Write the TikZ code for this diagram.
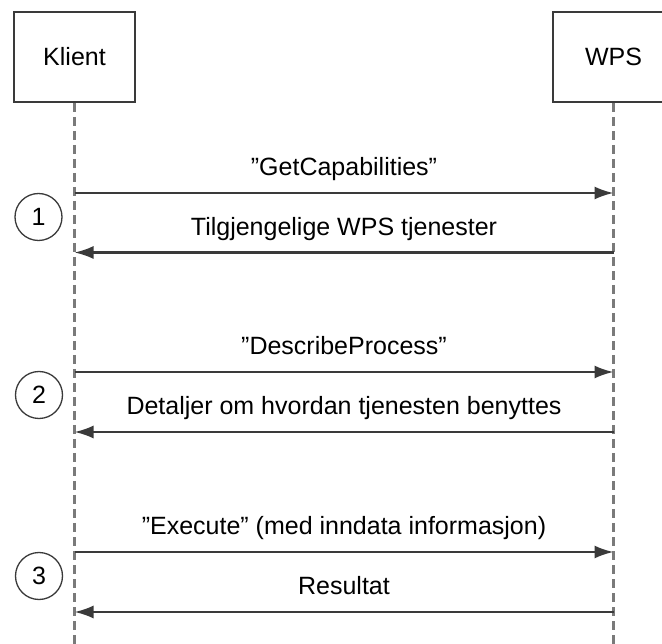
\documentclass[tikz,border=0pt]{standalone}
\usepackage{fontspec}
\setmainfont{Liberation Sans}
\usetikzlibrary{arrows.meta,positioning}

\definecolor{strek}{HTML}{3A3A3A}
\definecolor{livslinje}{HTML}{7A7A7A}

\begin{document}
\begin{tikzpicture}[x=1pt,y=-1pt,->,>={Latex[length=19pt,width=13pt]},font=\fontsize{25}{30}\selectfont,node distance=539pt,
  every edge/.append style={draw=strek,line width=2.2pt},
  aktor/.style={draw=strek,line width=2pt,minimum width=121pt,minimum height=90pt,inner sep=0pt},
  livslinje/.style={-,draw=livslinje,line width=2.2pt,dash pattern=on 9pt off 5pt},
  tekst/.style={above=11pt,inner sep=0pt,text depth=5pt},
  nummer/.style={circle,draw=strek,line width=1.3pt,minimum size=47pt,inner sep=0pt}]
\useasboundingbox (0,0) rectangle (662,644);
\node[aktor] (klient) at (74.5,57) {Klient};
\node[aktor] [right of=klient] (wps) {WPS};
\coordinate (kslutt) at (74.5,650);
\coordinate (wslutt) at (613.5,650);
\draw[livslinje] (klient.south) -- (kslutt);
\draw[livslinje] (wps.south) -- (wslutt);
% meldinger
\coordinate (k1) at (74.5,193); \coordinate (w1) at (613.5,193);
\coordinate (k2) at (74.5,252.5); \coordinate (w2) at (613.5,252.5);
\coordinate (k3) at (74.5,372); \coordinate (w3) at (613.5,372);
\coordinate (k4) at (74.5,432); \coordinate (w4) at (613.5,432);
\coordinate (k5) at (74.5,552); \coordinate (w5) at (613.5,552);
\coordinate (k6) at (74.5,612); \coordinate (w6) at (613.5,612);
\node[nummer] (n1) at (38.5,217) {1};
\node[nummer] (n2) at (39,395) {2};
\node[nummer] (n3) at (39,576) {3};
\path (k1) edge node[tekst]{"GetCapabilities"} (w1)
(w2) edge node[tekst]{Tilgjengelige WPS tjenester} (k2)
(k3) edge node[tekst]{"DescribeProcess"} (w3)
(w4) edge node[tekst]{Detaljer om hvordan tjenesten benyttes} (k4)
(k5) edge node[tekst]{"Execute" (med inndata informasjon)} (w5)
(w6) edge node[tekst]{Resultat} (k6);
\end{tikzpicture}
\end{document}
